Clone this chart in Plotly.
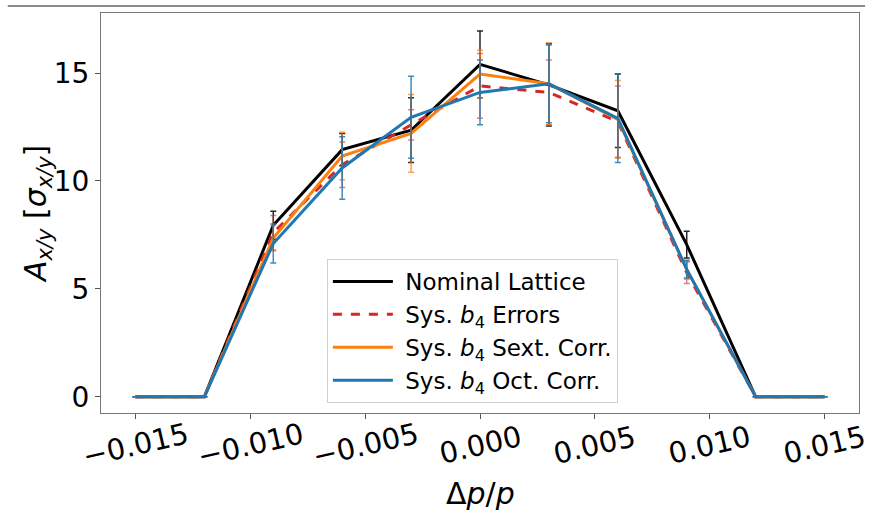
import plotly.graph_objects as go

dp = [-0.015, -0.012, -0.009, -0.006, -0.003, 0.0, 0.003, 0.006, 0.009, 0.012, 0.015]

nominal = [0, 0, 7.95, 11.45, 12.35, 15.4, 14.45, 13.25, 7.05, 0, 0]
nominal_err = [0, 0, 0.65, 0.75, 1.5, 1.55, 1.9, 1.7, 0.62, 0, 0]

errors = [0, 0, 7.6, 10.75, 12.6, 14.4, 14.1, 12.75, 5.75, 0, 0]
errors_err = [0, 0, 0.8, 1.05, 0.7, 1.5, 1.5, 1.65, 0.5, 0, 0]

sext = [0, 0, 7.35, 11.15, 12.2, 14.95, 14.5, 12.85, 5.9, 0, 0]
sext_err = [0, 0, 0.6, 1.1, 1.8, 1.1, 1.9, 1.8, 0.45, 0, 0]

octc = [0, 0, 7.1, 10.6, 12.95, 14.1, 14.5, 12.9, 5.9, 0, 0]
octc_err = [0, 0, 0.9, 1.45, 1.9, 1.5, 1.8, 2.05, 0.4, 0, 0]

xtick_vals = [-0.015, -0.01, -0.005, 0, 0.005, 0.01, 0.015]
xtick_text = ["\u22120.015", "\u22120.010", "\u22120.005", "0.000", "0.005", "0.010", "0.015"]
ytick_vals = [0, 5, 10, 15]

series = [
    ("\u00a0Nominal Lattice", nominal, nominal_err, "#000000", "rgba(0,0,0,0.85)", "solid"),
    ("\u00a0Sys. <i>b</i><sub>4</sub> Errors", errors, errors_err, "#d62728", "rgba(214,39,40,0.6)", "dash"),
    ("\u00a0Sys. <i>b</i><sub>4</sub> Sext. Corr.", sext, sext_err, "#ff7f0e", "rgba(255,127,14,0.75)", "solid"),
    ("\u00a0Sys. <i>b</i><sub>4</sub> Oct. Corr.", octc, octc_err, "#1f77b4", "rgba(31,119,180,0.85)", "solid"),
]

fig = go.Figure()
for name, y, e, col, ecol, dash in series:
    fig.add_trace(go.Scatter(
        x=dp, y=y, name=name, mode="lines",
        line=dict(color=col, width=3, dash=dash),
        error_y=dict(type="data", array=e, visible=True, color=ecol, thickness=1.5, width=3),
    ))

font = "DejaVu Sans, Liberation Sans, sans-serif"

annotations = [
    dict(x=v, y=-0.08, xref="x", yref="paper", text=t, showarrow=False,
         textangle=-13, xanchor="center", yanchor="middle",
         font=dict(size=29, family=font, color="black"))
    for v, t in zip(xtick_vals, xtick_text)
]
annotations.append(dict(
    x=0.5, y=-0.2, xref="paper", yref="paper", text="\u0394<i>p</i>/<i>p</i>",
    showarrow=False, xanchor="center", yanchor="middle",
    font=dict(size=30, family=font, color="black")))
annotations.append(dict(
    x=-0.083, y=0.4975, xref="paper", yref="paper",
    text="<i>A</i><sub><i>x/y</i></sub> [<i>\u03c3</i><sub><i>x/y</i></sub>]",
    showarrow=False, textangle=-90, xanchor="center", yanchor="middle",
    font=dict(size=30, family=font, color="black")))

fig.update_layout(
    width=869, height=513,
    margin=dict(l=101, r=10, t=13, b=100),
    paper_bgcolor="white", plot_bgcolor="white",
    font=dict(family=font, color="black"),
    showlegend=True,
    legend=dict(
        x=0.298, y=0.025, xanchor="left", yanchor="bottom",
        font=dict(size=23, family=font),
        bgcolor="rgba(255,255,255,0.85)", bordercolor="#d0d0d0", borderwidth=1,
        itemwidth=60,
    ),
    xaxis=dict(
        range=[-0.0165, 0.0165],
        tickvals=xtick_vals, showticklabels=False,
        ticks="outside", ticklen=5, tickcolor="#555",
        showline=True, linecolor="#777", linewidth=1, mirror=True,
        showgrid=False, zeroline=False, automargin=False,
    ),
    yaxis=dict(
        range=[-0.75, 17.78],
        tickvals=ytick_vals,
        tickfont=dict(size=28),
        ticks="outside", ticklen=5, tickcolor="#555",
        showline=True, linecolor="#777", linewidth=1, mirror=True,
        showgrid=False, zeroline=False, automargin=False,
    ),
    annotations=annotations,
    shapes=[dict(type="line", xref="paper", yref="paper",
                 x0=-0.123, x1=1.008, y0=1.0175, y1=1.0175,
                 line=dict(color="#666", width=1.5))],
)

fig.write_html("out.html", config={"displayModeBar": False},
               post_script="document.body.style.margin='0';")
